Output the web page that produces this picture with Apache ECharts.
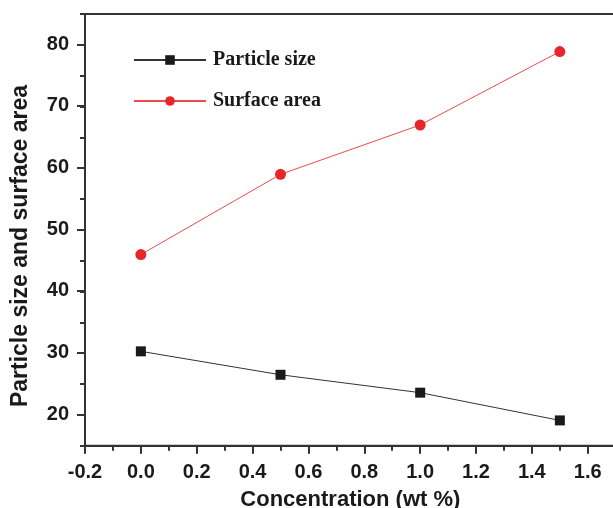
<!DOCTYPE html>
<html>
<head>
<meta charset="utf-8">
<script src="https://cdn.jsdelivr.net/npm/echarts@6/dist/echarts.min.js"></script>
<style>html,body{margin:0;padding:0;background:#fff}#c{width:613px;height:508px}</style>
</head>
<body>
<div id="c"></div>
<script>
const concentration = [0.0, 0.5, 1.0, 1.5];
const particleSize = [30.3, 26.5, 23.6, 19.1];
const surfaceArea = [46.0, 59.0, 67.0, 78.9];
const xTickLabels = ['-0.2','0.0','0.2','0.4','0.6','0.8','1.0','1.2','1.4','1.6'];
const yTickLabels = ['20','30','40','50','60','70','80'];
const xTitle = 'Concentration (wt %)';
const yTitle = 'Particle size and surface area';

const chart = echarts.init(document.getElementById('c'), null, {renderer: 'canvas'});
const font = "Arial, 'Liberation Sans', sans-serif";
const axisColor = '#333';
const textColor = '#1a1a1a';

const option = {
  backgroundColor: '#fff',
  animation: false,
  grid: [
    {left: 85, top: 14, width: 530.7, height: 431.7, show: true, borderWidth: 2, borderColor: axisColor, backgroundColor: 'transparent', containLabel: false, outerBoundsMode: 'none'},
    {left: 85, top: 44.3, width: 530.7, height: 370, containLabel: false, outerBoundsMode: 'none'},
    {left: 85, top: 14, width: 502.7, height: 431.7, containLabel: false, outerBoundsMode: 'none'}
  ],
  xAxis: [
    {gridIndex: 0, type: 'value', min: -0.2, max: 1.7, interval: 0.1,
     axisLine: {show: true, onZero: false, lineStyle: {color: axisColor, width: 2}},
     axisTick: {show: true, length: 5, lineStyle: {color: axisColor, width: 2}},
     axisLabel: {show: false}, splitLine: {show: false},
     name: xTitle, nameLocation: 'middle', nameGap: 43,
     nameTextStyle: {color: textColor, fontFamily: font, fontWeight: 'bold', fontSize: 22}},
    {gridIndex: 1, type: 'value', min: -0.2, max: 1.7, show: false},
    {gridIndex: 2, type: 'value', min: -0.2, max: 1.6, interval: 0.2,
     axisLine: {show: false, onZero: false},
     axisTick: {show: true, length: 8, lineStyle: {color: axisColor, width: 2}},
     axisLabel: {show: true, margin: 17, color: textColor, fontFamily: font, fontWeight: 'bold', fontSize: 20,
       formatter: function (v) { const i = Math.round((v + 0.2) / 0.2); return xTickLabels[i] || ''; }},
     splitLine: {show: false}}
  ],
  yAxis: [
    {gridIndex: 0, type: 'value', min: 15, max: 85, interval: 5,
     axisLine: {show: true, onZero: false, lineStyle: {color: axisColor, width: 2}},
     axisTick: {show: true, length: 5, lineStyle: {color: axisColor, width: 2}},
     axisLabel: {show: false}, splitLine: {show: false}},
    {gridIndex: 1, type: 'value', min: 20, max: 80, interval: 10,
     axisLine: {show: false, onZero: false},
     axisTick: {show: true, length: 8, lineStyle: {color: axisColor, width: 2}},
     axisLabel: {show: true, margin: 16, color: textColor, fontFamily: font, fontWeight: 'bold', fontSize: 20,
       formatter: function (v) { const i = Math.round((v - 20) / 10); return yTickLabels[i] || ''; }},
     splitLine: {show: false}},
    {gridIndex: 2, type: 'value', min: 15, max: 85, show: false}
  ],
  graphic: [
    {type: 'text', x: 21, y: 246, rotation: Math.PI / 2,
     style: {text: yTitle, fill: textColor, font: 'bold 23px ' + font, textAlign: 'center', textVerticalAlign: 'middle'}}
  ],
  legend: {
    orient: 'vertical', left: 128, top: 45, itemWidth: 72, itemHeight: 12, itemGap: 21,
    textStyle: {color: textColor, fontFamily: "'Times New Roman', 'Liberation Serif', serif", fontWeight: 'bold', fontSize: 20, padding: [0,0,0,2]},
    data: ['Particle size', 'Surface area']
  },
  series: [
    {name: 'Particle size', type: 'line', xAxisIndex: 0, yAxisIndex: 0,
     data: concentration.map((x, i) => [x, particleSize[i]]),
     symbol: 'rect', symbolSize: 10, color: '#1a1a1a',
     lineStyle: {color: '#333', width: 1}, itemStyle: {color: '#1a1a1a'}},
    {name: 'Surface area', type: 'line', xAxisIndex: 0, yAxisIndex: 0,
     data: concentration.map((x, i) => [x, surfaceArea[i]]),
     symbol: 'circle', symbolSize: 11, color: '#e8262a',
     lineStyle: {color: '#ec4a4e', width: 1}, itemStyle: {color: '#e8262a'}}
  ]
};
chart.setOption(option);
</script>
</body>
</html>
